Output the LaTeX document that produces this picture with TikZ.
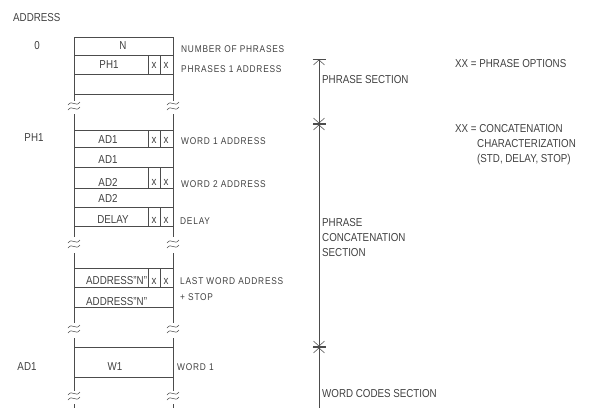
\documentclass[tikz,border=0pt]{standalone}
\usepackage{fontspec}
\setmainfont{Liberation Sans}[FakeStretch=0.85]
\newfontfamily\cmtfont{Liberation Sans}[FakeStretch=0.85,LetterSpace=8]
\usetikzlibrary{arrows.meta}

\begin{document}
\begin{tikzpicture}[x=1pt,y=-1pt,font=\fontsize{11.5}{15}\selectfont,
  ink/.style={black!70,line width=0.55pt},
  lbl/.style={text=black!75,inner sep=0pt},
  wlbl/.style={lbl,anchor=west},
  cmt/.style={wlbl,font=\cmtfont\fontsize{9.8}{12}\selectfont},
  dimline/.style={ink,arrows={Bar[width=13pt]Straight Barb[length=5pt,width=11pt]-Straight Barb[length=5pt,width=11pt]Bar[width=13pt]}},
  dimend/.style={ink,arrows={Bar[width=13pt]Straight Barb[length=5pt,width=11pt]-}}]
 \useasboundingbox (0,0) rectangle (608,408);
 % addresses
 \node[wlbl] (addr) at (13,18) {ADDRESS};
 \node[lbl] (a0) at (37,46) {0};
 \node[lbl] (aph) at (34,138) {PH1};
 \node[lbl] (aad) at (27,367) {AD1};
 % memory rows
 \foreach \y in {37,55,74,94,130,147,167,188,207,226,268,287,307,347,377}
   \draw[ink] (74,\y) -- (173,\y);
 \foreach \a/\b in {37/101,114/237,253/323,338/391,404/408}
   {\draw[ink] (74,\a) -- (74,\b); \draw[ink] (173,\a) -- (173,\b);}
 % cuts
 \foreach \y in {107,245,330,397}
   \foreach \x in {74,173}
     \foreach \d in {-3,2}
       \draw[ink] (\x-6,\y+\d+1) .. controls (\x-2,\y+\d-5) and (\x+2,\y+\d+4) .. (\x+6,\y+\d-2);
 % option flags
 \foreach \y/\z/\m in {55/74/65,130/147/140,167/188/182,207/226/220,268/287/281}
   {\draw[ink] (148,\y) -- (148,\z); \draw[ink] (160,\y) -- (160,\z);
    \node[lbl] at (154,\m) {x}; \node[lbl] at (166,\m) {x};}
 % cell contents
 \node[lbl] (n) at (123,46) {N};
 \node[lbl] (ph1) at (109,65) {PH1};
 \node[lbl] (ad1a) at (108,140) {AD1};
 \node[lbl] (ad1b) at (108,160) {AD1};
 \node[lbl] (ad2a) at (108,182) {AD2};
 \node[lbl] (ad2b) at (108,198) {AD2};
 \node[lbl] (dly) at (113,220) {DELAY};
 \node[wlbl] (adna) at (86,281) {ADDRESS"N"};
 \node[wlbl] (adnb) at (86,302) {ADDRESS"N"};
 \node[lbl] (w1) at (115,367) {W1};
 % comments beside the rows
 \node[cmt] at (181,49) {NUMBER OF PHRASES};
 \node[cmt] at (181,69) {PHRASES 1 ADDRESS};
 \node[cmt] at (181,141) {WORD 1 ADDRESS};
 \node[cmt] at (181,184) {WORD 2 ADDRESS};
 \node[cmt] at (180,221) {DELAY};
 \node[cmt] at (180,281) {LAST WORD ADDRESS};
 \node[cmt] at (180,297) {+ STOP};
 \node[cmt] at (177,367) {WORD 1};
 % sections
 \coordinate (top) at (319,59);
 \coordinate (phr) at (319,124);
 \coordinate (cat) at (319,347);
 \coordinate (bot) at (319,408);
 \draw[dimline] (top) -- (phr);
 \draw[dimline] (phr) -- (cat);
 \draw[dimend] (cat) -- (bot);
 \node[wlbl] at (322,80) {PHRASE SECTION};
 \node[wlbl,align=left] at (322,238) {PHRASE\\CONCATENATION\\SECTION};
 \node[wlbl] at (322,394) {WORD CODES SECTION};
 % option notes
 \node[wlbl] at (455,64) {XX = PHRASE OPTIONS};
 \node[wlbl] at (455,129) {XX = CONCATENATION};
 \node[wlbl,align=left] at (477,152) {CHARACTERIZATION\\(STD, DELAY, STOP)};
\end{tikzpicture}
\end{document}
